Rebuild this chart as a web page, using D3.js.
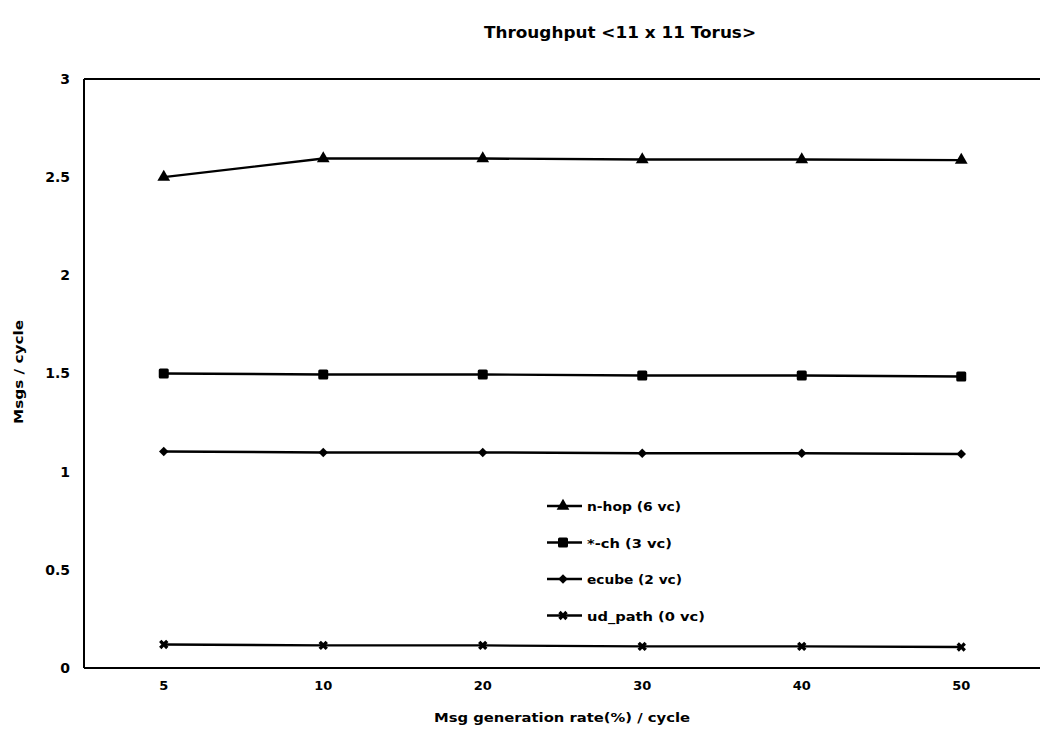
<!DOCTYPE html>
<html>
<head>
<meta charset="utf-8">
<script src="https://cdn.jsdelivr.net/npm/d3@7"></script>
<style>
  html, body { margin: 0; padding: 0; background: #fff; }
  svg { display: block; font-family: "DejaVu Sans", "Liberation Sans", Arial, sans-serif; font-weight: bold; }
</style>
</head>
<body>
<svg id="chart" width="1040" height="732"></svg>
<script>
// Message generation rates (x categories)
const rates = ["5", "10", "20", "30", "40", "50"];

// Throughput per routing scheme (msgs / cycle)
const nHop   = [2.50, 2.595, 2.595, 2.59, 2.59, 2.587];
const starCh = [1.50, 1.495, 1.495, 1.49, 1.49, 1.485];
const ecube  = [1.103, 1.098, 1.098, 1.094, 1.094, 1.09];
const udPath = [0.12, 0.115, 0.115, 0.11, 0.11, 0.107];

const seriesNames = ["n-hop (6 vc)", "*-ch (3 vc)", "ecube (2 vc)", "ud_path (0 vc)"];
const seriesMarkers = ["triangle", "square", "diamond", "cross"];
const yTicks = [0, 0.5, 1, 1.5, 2, 2.5, 3];

const series = [nHop, starCh, ecube, udPath].map((values, i) => ({
  name: seriesNames[i], marker: seriesMarkers[i], values
}));

const svg = d3.select("#chart");
const plot = { left: 84, right: 1041, top: 79, bottom: 668 };

const x = d3.scaleBand().domain(rates).range([plot.left, plot.right]);
const y = d3.scaleLinear().domain([0, 3]).range([plot.bottom, plot.top]);
const cx = d => x(d) + x.bandwidth() / 2;

// Fit a label to a given width, keeping it compact and heavy
function fit(sel, w) {
  sel.attr("textLength", w).attr("lengthAdjust", "spacingAndGlyphs");
}

// Title
svg.append("text")
  .attr("x", 620).attr("y", 38)
  .attr("text-anchor", "middle")
  .attr("font-size", 15)
  .text("Throughput <11 x 11 Torus>")
  .call(fit, 272);

// Plot frame: left edge plus top and bottom rules
const frame = svg.append("g").attr("stroke", "#000").attr("stroke-width", 2).attr("fill", "none");
frame.append("line").attr("x1", plot.left).attr("x2", plot.left).attr("y1", plot.top).attr("y2", plot.bottom);
frame.append("line").attr("x1", plot.left).attr("x2", 1040).attr("y1", plot.top).attr("y2", plot.top);
frame.append("line").attr("x1", plot.left).attr("x2", 1040).attr("y1", plot.bottom).attr("y2", plot.bottom);

// Y axis labels
const yAxis = d3.axisLeft(y).tickValues(yTicks).tickSize(0).tickPadding(14)
  .tickFormat(d3.format(""));
svg.append("g").attr("transform", `translate(${plot.left},0)`).call(yAxis)
  .call(g => g.select(".domain").remove())
  .selectAll("text")
  .attr("font-size", 14).attr("font-weight", "bold").attr("fill", "#000")
  .attr("font-family", "DejaVu Sans, Liberation Sans, sans-serif");

// X axis labels
const xAxis = d3.axisBottom(x).tickSize(0).tickPadding(13);
svg.append("g").attr("transform", `translate(0,${plot.bottom})`).call(xAxis)
  .call(g => g.select(".domain").remove())
  .selectAll("text")
  .attr("font-size", 13).attr("font-weight", "bold").attr("fill", "#000")
  .attr("font-family", "DejaVu Sans, Liberation Sans, sans-serif");

// Axis titles
svg.append("text")
  .attr("x", 562).attr("y", 722)
  .attr("text-anchor", "middle")
  .attr("font-size", 12)
  .text("Msg generation rate(%) / cycle")
  .call(fit, 256);

svg.append("text")
  .attr("transform", "translate(23,372) rotate(-90)")
  .attr("text-anchor", "middle")
  .attr("font-size", 12)
  .text("Msgs / cycle")
  .call(fit, 104);

// Marker drawing
function drawMarker(g, type, px, py) {
  if (type === "triangle") {
    g.append("path").attr("transform", `translate(${px},${py})`)
      .attr("d", d3.symbol(d3.symbolTriangle, 70)()).attr("fill", "#000");
  } else if (type === "square") {
    g.append("rect").attr("x", px - 5).attr("y", py - 5).attr("width", 10).attr("height", 10)
      .attr("rx", 1.5).attr("fill", "#000");
  } else if (type === "diamond") {
    g.append("path").attr("transform", `translate(${px},${py}) rotate(45)`)
      .attr("d", d3.symbol(d3.symbolSquare, 45)()).attr("fill", "#000");
  } else {
    g.append("path").attr("transform", `translate(${px},${py}) rotate(45)`)
      .attr("d", d3.symbol(d3.symbolCross, 55)()).attr("fill", "#000");
  }
}

const line = d3.line().x((d, i) => cx(rates[i])).y(d => y(d));

series.forEach(s => {
  const g = svg.append("g");
  g.append("path").datum(s.values)
    .attr("d", line).attr("fill", "none").attr("stroke", "#000").attr("stroke-width", 2.4);
  s.values.forEach((v, i) => drawMarker(g, s.marker, cx(rates[i]), y(v)));
});

// Legend
const legendWidths = [94, 85, 95, 118];
const legend = svg.append("g");
series.forEach((s, i) => {
  const ly = 506 + i * 36.5;
  legend.append("line").attr("x1", 547).attr("x2", 582).attr("y1", ly).attr("y2", ly)
    .attr("stroke", "#000").attr("stroke-width", 2.4);
  drawMarker(legend, s.marker, 563, ly);
  legend.append("text").attr("x", 587).attr("y", ly + 5)
    .attr("font-size", 12)
    .text(s.name)
    .call(fit, legendWidths[i]);
});
</script>
</body>
</html>
